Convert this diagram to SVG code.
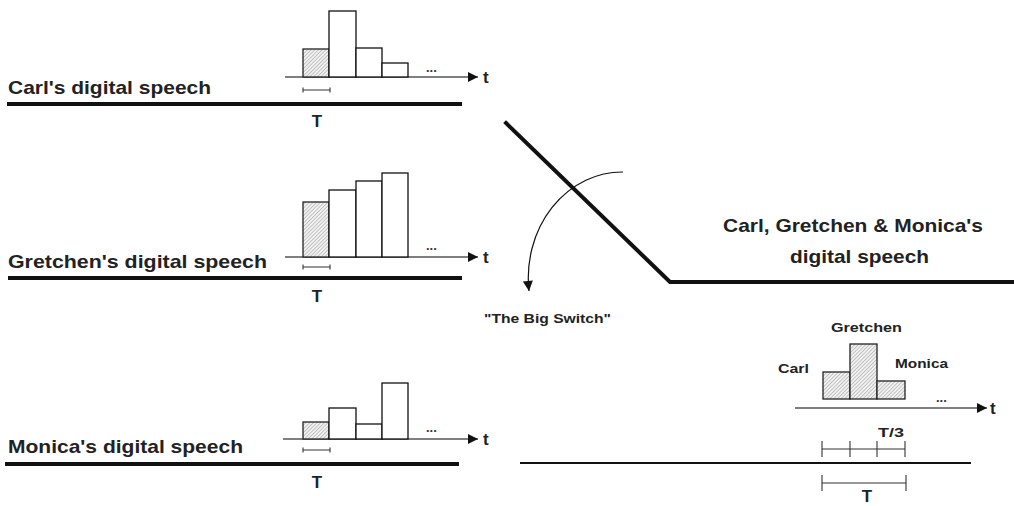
<svg xmlns="http://www.w3.org/2000/svg" width="1014" height="506" viewBox="0 0 1014 506">
<style>
.lbl{font-family:"Liberation Sans","DejaVu Sans",sans-serif;font-weight:bold;fill:#222;}
.big{font-size:18.5px;}
.mid{font-size:17px;}
.sm{font-size:13.5px;}
.axis{stroke:#555;stroke-width:1.3;fill:none;}
.bar{fill:#fff;stroke:#111;stroke-width:1.3;}
.hbar{fill:url(#hatch);stroke:#222;stroke-width:1.3;}
.thick{stroke:#111;stroke-width:4;fill:none;stroke-linecap:square;}
.thin{stroke:#111;stroke-width:2;fill:none;}
.brk{stroke:#333;stroke-width:1.1;fill:none;}
.dots{font-family:"Liberation Sans",sans-serif;font-size:13px;font-weight:bold;fill:#333;}
</style>
<defs>
<pattern id="hatch" patternUnits="userSpaceOnUse" width="2.6" height="2.6" patternTransform="rotate(45)">
<rect width="2.6" height="2.6" fill="#f2f2f2"/>
<line x1="0" y1="0" x2="0" y2="2.6" stroke="#888" stroke-width="0.9"/>
</pattern>
<marker id="ah" viewBox="0 0 10 10" refX="10" refY="5" markerWidth="18" markerHeight="10" markerUnits="userSpaceOnUse" orient="auto">
<path d="M0,0 L10,5 L0,10 Z" fill="#111"/>
</marker>
<marker id="ah2" viewBox="0 0 10 10" refX="10" refY="5" markerWidth="14" markerHeight="10" markerUnits="userSpaceOnUse" orient="auto">
<path d="M0,0 L10,5 L0,10 Z" fill="#111"/>
</marker>
</defs>

<g id="carl">
<line class="axis" x1="285" y1="77" x2="478" y2="77" marker-end="url(#ah)"/>
<rect class="hbar" x="303" y="49" width="26" height="28"/>
<rect class="bar" x="329" y="11" width="27" height="66"/>
<rect class="bar" x="356" y="48" width="26" height="29"/>
<rect class="bar" x="382" y="63" width="26" height="14"/>
<text class="dots" x="426" y="72">...</text>
<text class="lbl mid" x="483" y="83">t</text>
<path class="brk" d="M303,90 H330 M303,87.5 V92.5 M330,87.5 V92.5"/>
<line class="thick" x1="9" y1="104" x2="460" y2="104"/>
<text class="lbl big" x="8" y="94" textLength="203" lengthAdjust="spacingAndGlyphs">Carl's digital speech</text>
<text class="lbl mid" x="317" y="127" text-anchor="middle">T</text>
</g>

<g id="gretchen">
<line class="axis" x1="285" y1="257" x2="478" y2="257" marker-end="url(#ah)"/>
<rect class="hbar" x="303" y="202" width="26" height="55"/>
<rect class="bar" x="329" y="190" width="27" height="67"/>
<rect class="bar" x="356" y="181" width="26" height="76"/>
<rect class="bar" x="382" y="173" width="26" height="84"/>
<text class="dots" x="426" y="250">...</text>
<text class="lbl mid" x="483" y="263">t</text>
<path class="brk" d="M303,267 H330 M303,264.5 V269.5 M330,264.5 V269.5"/>
<line class="thick" x1="10" y1="278" x2="460" y2="278"/>
<text class="lbl big" x="8" y="268" textLength="259" lengthAdjust="spacingAndGlyphs">Gretchen's digital speech</text>
<text class="lbl mid" x="317" y="302" text-anchor="middle">T</text>
</g>

<g id="monica">
<line class="axis" x1="283" y1="439" x2="478" y2="439" marker-end="url(#ah)"/>
<rect class="hbar" x="303" y="422" width="26" height="17"/>
<rect class="bar" x="329" y="408" width="27" height="31"/>
<rect class="bar" x="356" y="424" width="26" height="15"/>
<rect class="bar" x="382" y="383" width="26" height="56"/>
<text class="dots" x="426" y="432">...</text>
<text class="lbl mid" x="483" y="445">t</text>
<path class="brk" d="M303,450 H330 M303,447.5 V452.5 M330,447.5 V452.5"/>
<line class="thick" x1="7" y1="464" x2="457" y2="464"/>
<text class="lbl big" x="8" y="453" textLength="235" lengthAdjust="spacingAndGlyphs">Monica's digital speech</text>
<text class="lbl mid" x="317" y="488" text-anchor="middle">T</text>
</g>

<g id="switch">
<path class="thick" d="M506,123 L670,282 H1014" stroke-linecap="butt"/>
<text class="lbl big" x="723" y="232" textLength="260" lengthAdjust="spacingAndGlyphs">Carl, Gretchen &amp; Monica's</text>
<text class="lbl big" x="790" y="263" textLength="139" lengthAdjust="spacingAndGlyphs">digital speech</text>
<text class="lbl sm" x="484" y="323" textLength="127" lengthAdjust="spacingAndGlyphs">"The Big Switch"</text>
</g>

<g id="connectors">
<path d="M623,172 A94,106 0 0 0 529,291" fill="none" stroke="#111" stroke-width="1.2" marker-end="url(#ah2)"/>
</g>

<g id="combined">
<text class="lbl sm" x="831" y="332" textLength="71" lengthAdjust="spacingAndGlyphs">Gretchen</text>
<text class="lbl sm" x="778" y="373" textLength="31" lengthAdjust="spacingAndGlyphs">Carl</text>
<text class="lbl sm" x="895" y="368" textLength="53" lengthAdjust="spacingAndGlyphs">Monica</text>
<rect class="hbar" x="823" y="372" width="27" height="27"/>
<rect class="hbar" x="850" y="344" width="27" height="55"/>
<rect class="hbar" x="877" y="381" width="28" height="18"/>
<line class="axis" x1="795" y1="408" x2="987" y2="408" marker-end="url(#ah)"/>
<text class="dots" x="936" y="402">...</text>
<text class="lbl mid" x="990" y="414">t</text>
<text class="lbl sm" x="878" y="437" textLength="26" lengthAdjust="spacingAndGlyphs">T/3</text>
<path class="brk" d="M822,449 H905 M822,441 V457 M850,441 V457 M877,441 V457 M905,441 V457"/>
<line class="thin" x1="520" y1="463" x2="971" y2="463"/>
<path class="brk" d="M822,483 H906 M822,475 V491 M906,475 V491"/>
<text class="lbl mid" x="867" y="502" text-anchor="middle">T</text>
</g>
</svg>
